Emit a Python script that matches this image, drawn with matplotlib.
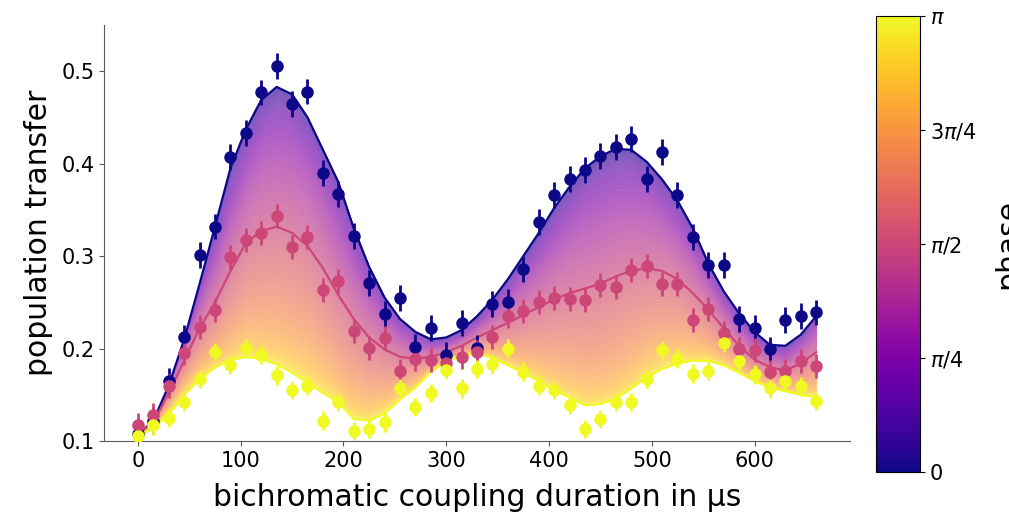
"""Population transfer vs bichromatic coupling duration, for phase 0 .. pi"""
import matplotlib
matplotlib.use("Agg")
import matplotlib.pyplot as plt
import numpy as np

# measurement times in us (one point every 15 us)
t_us = np.arange(0, 675, 15)

# measured population transfer
pop_phase0 = [0.108, 0.122, 0.165, 0.212, 0.301, 0.332, 0.407, 0.433, 0.477, 0.506,
              0.465, 0.478, 0.390, 0.367, 0.322, 0.271, 0.237, 0.255, 0.202, 0.222,
              0.193, 0.228, 0.201, 0.248, 0.250, 0.286, 0.337, 0.366, 0.383, 0.393,
              0.408, 0.418, 0.427, 0.383, 0.413, 0.366, 0.321, 0.290, 0.290, 0.232,
              0.222, 0.199, 0.231, 0.235, 0.239]
pop_phase_half = [0.117, 0.128, 0.160, 0.195, 0.223, 0.242, 0.299, 0.317, 0.325, 0.343,
                  0.310, 0.321, 0.263, 0.273, 0.219, 0.201, 0.211, 0.176, 0.189, 0.188,
                  0.184, 0.191, 0.196, 0.212, 0.235, 0.241, 0.250, 0.255, 0.254, 0.252,
                  0.269, 0.267, 0.285, 0.289, 0.270, 0.270, 0.231, 0.243, 0.217, 0.200,
                  0.198, 0.175, 0.176, 0.187, 0.181]
pop_phase_pi = [0.105, 0.117, 0.125, 0.142, 0.167, 0.196, 0.182, 0.201, 0.193, 0.171,
                0.155, 0.160, 0.122, 0.142, 0.111, 0.113, 0.120, 0.157, 0.137, 0.152,
                0.177, 0.157, 0.178, 0.183, 0.200, 0.175, 0.160, 0.155, 0.139, 0.113,
                0.124, 0.142, 0.142, 0.167, 0.198, 0.189, 0.173, 0.176, 0.206, 0.187,
                0.172, 0.157, 0.165, 0.159, 0.143]
err_phase0 = 0.014
err_phase_half = 0.013
err_phase_pi = 0.010

# fitted model curves, read on the same time grid
fit_phase0 = [0.107, 0.122, 0.160, 0.210, 0.270, 0.332, 0.395, 0.437, 0.469, 0.483,
              0.475, 0.450, 0.415, 0.380, 0.330, 0.288, 0.255, 0.232, 0.218, 0.210,
              0.212, 0.220, 0.235, 0.253, 0.275, 0.300, 0.325, 0.352, 0.375, 0.395,
              0.408, 0.416, 0.415, 0.402, 0.383, 0.360, 0.330, 0.292, 0.262, 0.238,
              0.218, 0.204, 0.203, 0.215, 0.235]
fit_phase_half = [0.108, 0.120, 0.152, 0.187, 0.222, 0.250, 0.284, 0.314, 0.327, 0.332,
                  0.325, 0.311, 0.287, 0.258, 0.232, 0.212, 0.199, 0.191, 0.189, 0.191,
                  0.196, 0.203, 0.212, 0.220, 0.228, 0.236, 0.245, 0.253, 0.260, 0.265,
                  0.270, 0.278, 0.284, 0.287, 0.284, 0.275, 0.260, 0.242, 0.222, 0.203,
                  0.188, 0.180, 0.176, 0.184, 0.196]
fit_phase_pi = [0.104, 0.115, 0.129, 0.150, 0.167, 0.180, 0.188, 0.191, 0.189, 0.183,
                0.174, 0.163, 0.152, 0.142, 0.124, 0.122, 0.130, 0.145, 0.158, 0.175,
                0.187, 0.193, 0.195, 0.190, 0.182, 0.174, 0.165, 0.155, 0.147, 0.139,
                0.140, 0.146, 0.157, 0.169, 0.178, 0.184, 0.187, 0.187, 0.182, 0.174,
                0.165, 0.158, 0.154, 0.150, 0.148]

cmap = plt.get_cmap("plasma")

fig = plt.figure(figsize=(10.09, 5.12), dpi=100)
ax = fig.add_axes([0.1031, 0.1387, 0.7394, 0.8125])

# band of model curves for intermediate phases: P = A + B cos(phi) + C sin(phi)
f0 = np.array(fit_phase0)
fh = np.array(fit_phase_half)
fp = np.array(fit_phase_pi)
A = (f0 + fp) / 2
B = (f0 - fp) / 2
C = fh - A
phis = np.linspace(0, np.pi, 200)
curves = [A + B * np.cos(p) + C * np.sin(p) for p in phis]
for i in range(len(phis) - 1):
    # pale version of the colormap colour (mixed with white), drawn opaque
    rgb = np.array(cmap(phis[i] / np.pi)[:3])
    col = 0.65 * rgb + 0.35
    ax.fill_between(t_us, curves[i], curves[i + 1], facecolor=col, edgecolor=col,
                    lw=0.4, zorder=1)

ax.plot(t_us, fit_phase0, color=cmap(0.0), lw=1.6, zorder=2)
ax.plot(t_us, fit_phase_half, color=cmap(0.5), lw=1.6, zorder=2)
ax.plot(t_us, fit_phase_pi, color=cmap(1.0), lw=1.6, zorder=2)

for pop, err, c in [(pop_phase0, err_phase0, 0.0),
                    (pop_phase_half, err_phase_half, 0.5),
                    (pop_phase_pi, err_phase_pi, 1.0)]:
    ax.errorbar(t_us, pop, yerr=err, fmt="o", color=cmap(c), ms=8, elinewidth=2,
                capsize=0, zorder=3)

ax.set_ylim(0.1, 0.55)
ax.set_yticks([0.1, 0.2, 0.3, 0.4, 0.5])
ax.set_xticks([0, 100, 200, 300, 400, 500, 600])
ax.tick_params(labelsize=15, color="0.35")
ax.spines["top"].set_visible(False)
ax.spines["right"].set_visible(False)
ax.spines["left"].set_color("0.35")
ax.spines["bottom"].set_color("0.35")
ax.set_xlabel("bichromatic coupling duration in µs", fontsize=21.5, labelpad=9)
ax.set_ylabel("population transfer", fontsize=21.5, labelpad=6)

cax = fig.add_axes([0.8682, 0.0781, 0.0436, 0.8906])
sm = matplotlib.cm.ScalarMappable(cmap=cmap, norm=plt.Normalize(0, np.pi))
cbar = fig.colorbar(sm, cax=cax)
cbar.set_ticks([0, np.pi / 4, np.pi / 2, 3 * np.pi / 4, np.pi])
cbar.set_ticklabels(["0", r"$\pi/4$", r"$\pi/2$", r"$3\pi/4$", r"$\pi$"])
cbar.ax.tick_params(labelsize=15)
cbar.set_label("phase", fontsize=21.5, labelpad=12)

fig.savefig("out.png", dpi=100)
